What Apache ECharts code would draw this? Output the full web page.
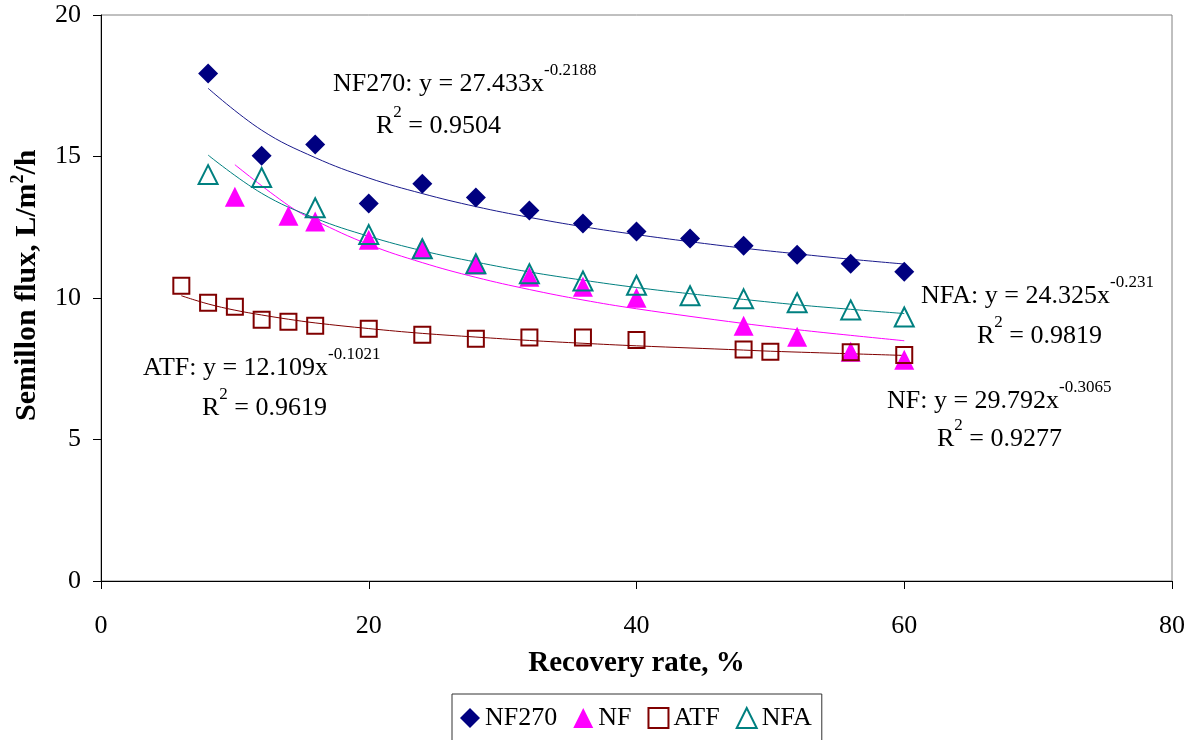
<!DOCTYPE html>
<html>
<head>
<meta charset="utf-8">
<script src="https://cdn.jsdelivr.net/npm/echarts@6/dist/echarts.min.js"></script>
<style>
html,body{margin:0;padding:0;background:#fff;}
#chart{width:1202px;height:740px;}
</style>
</head>
<body>
<div id="chart"></div>
<script>
// ---- data ----
const nf270X = [8, 12, 16, 20, 24, 28, 32, 36, 40, 44, 48, 52, 56, 60];
const nf270Y = [17.93, 15.03, 15.42, 13.34, 14.04, 13.55, 13.09, 12.63, 12.35, 12.10, 11.85, 11.53, 11.21, 10.93];
const nfX = [10, 14, 16, 20, 24, 28, 32, 36, 40, 48, 52, 56, 60];
const nfY = [13.58, 12.91, 12.70, 12.06, 11.78, 11.18, 10.75, 10.40, 10.01, 9.02, 8.63, 8.10, 7.82];
const atfX = [6, 8, 10, 12, 14, 16, 20, 24, 28, 32, 36, 40, 48, 50, 56, 60];
const atfY = [10.43, 9.83, 9.69, 9.23, 9.16, 9.02, 8.91, 8.70, 8.56, 8.60, 8.60, 8.52, 8.18, 8.10, 8.08, 7.99];
const nfaX = [8, 12, 16, 20, 24, 28, 32, 36, 40, 44, 48, 52, 56, 60];
const nfaY = [14.36, 14.26, 13.19, 12.24, 11.74, 11.21, 10.86, 10.60, 10.45, 10.08, 9.97, 9.83, 9.58, 9.33];

// trend lines (power fits shown on the chart), sampled values
const nf270TrendX = [8, 12, 16, 20, 24, 28, 32, 36, 40, 44, 48, 52, 56, 60];
const nf270TrendY = [17.41, 15.93, 14.96, 14.24, 13.69, 13.23, 12.85, 12.52, 12.24, 11.99, 11.76, 11.56, 11.37, 11.20];
const nfTrendX = [10, 14, 16, 20, 24, 28, 32, 36, 40, 48, 52, 56, 60];
const nfTrendY = [14.71, 13.27, 12.74, 11.89, 11.25, 10.73, 10.30, 9.93, 9.62, 9.10, 8.88, 8.68, 8.49];
const atfTrendX = [6, 8, 10, 12, 14, 16, 20, 24, 28, 32, 36, 40, 48, 50, 56, 60];
const atfTrendY = [10.08, 9.79, 9.57, 9.40, 9.25, 9.12, 8.92, 8.75, 8.62, 8.50, 8.40, 8.31, 8.16, 8.12, 8.03, 7.97];
const nfaTrendX = [8, 12, 16, 20, 24, 28, 32, 36, 40, 44, 48, 52, 56, 60];
const nfaTrendY = [15.05, 13.70, 12.82, 12.18, 11.67, 11.27, 10.92, 10.63, 10.37, 10.15, 9.95, 9.76, 9.60, 9.45];

const seriesNames = ['NF270', 'NF', 'ATF', 'NFA'];
const xTicks = [0, 20, 40, 60, 80];
const yTicks = [0, 5, 10, 15, 20];

// annotation texts
const eqTexts = [
  { main: 'NF270: y = 27.433x', sup: '-0.2188', r2: '0.9504' },
  { main: 'NF: y = 29.792x', sup: '-0.3065', r2: '0.9277' },
  { main: 'ATF: y = 12.109x', sup: '-0.1021', r2: '0.9619' },
  { main: 'NFA: y = 24.325x', sup: '-0.231', r2: '0.9819' }
];
const yTitleParts = ['Semillon flux, L/m', '2', '/h'];

const FONT = '"Liberation Serif", "Times New Roman", serif';
const pair = (xs, ys) => xs.map((x, i) => [x, ys[i]]);

// text measuring for placing superscripts
const mctx = document.createElement('canvas').getContext('2d');
function tw(text, size, weight) {
  mctx.font = (weight || 'normal') + ' ' + size + 'px ' + FONT;
  return mctx.measureText(text).width;
}
const MAIN_FS = 26, SUP_FS = 17, SUP_RISE = 17, MID = 0.3375;

function piece(text, x, baseline, size) {
  return { type: 'text', x: x, y: baseline - MID * size, z: 50,
    style: { text: text, fontFamily: FONT, fontSize: size, fill: '#000', align: 'left', verticalAlign: 'middle' } };
}
function eqLine(x, baseline, mainText, supText) {
  const w = tw(mainText, MAIN_FS);
  return [piece(mainText, x, baseline, MAIN_FS), piece(supText, x + w, baseline - SUP_RISE, SUP_FS)];
}
function r2Line(x, baseline, val) {
  const wR = tw('R', MAIN_FS);
  const w2 = tw('2', SUP_FS);
  return [piece('R', x, baseline, MAIN_FS), piece('2', x + wR, baseline - SUP_RISE, SUP_FS),
          piece(' = ' + val, x + wR + w2, baseline, MAIN_FS)];
}
// rotated (bottom-to-top) bold y-axis title: start y, baseline x
function vPiece(text, baselineX, startY, size) {
  return { type: 'text', x: baselineX - MID * size, y: startY, rotation: Math.PI / 2, z: 50,
    style: { text: text, fontFamily: FONT, fontSize: size, fontWeight: 'bold', fill: '#000', align: 'left', verticalAlign: 'middle' } };
}
function yTitle(baselineX, startY) {
  const T_FS = 30, S_FS = 18, RISE = 13;
  const w1 = tw(yTitleParts[0], T_FS, 'bold');
  const w2 = tw(yTitleParts[1], S_FS, 'bold');
  return [vPiece(yTitleParts[0], baselineX, startY, T_FS),
          vPiece(yTitleParts[1], baselineX - RISE, startY - w1, S_FS),
          vPiece(yTitleParts[2], baselineX, startY - w1 - w2, T_FS)];
}

const chart = echarts.init(document.getElementById('chart'), null, { renderer: 'canvas' });

const markerSeries = [
  { name: 'NF270', type: 'scatter', data: pair(nf270X, nf270Y), symbol: 'diamond', symbolSize: 20,
    itemStyle: { color: '#000080', opacity: 1 }, z: 5 },
  { name: 'NF', type: 'scatter', data: pair(nfX, nfY), symbol: 'triangle', symbolSize: 20,
    itemStyle: { color: '#FF00FF', opacity: 1 }, z: 5 },
  { name: 'ATF', type: 'scatter', data: pair(atfX, atfY), symbol: 'rect', symbolSize: 16,
    itemStyle: { color: 'rgba(255,255,255,0)', borderColor: '#800000', borderWidth: 2, opacity: 1 }, z: 6 },
  { name: 'NFA', type: 'scatter', data: pair(nfaX, nfaY), symbol: 'triangle', symbolSize: 19,
    itemStyle: { color: 'rgba(255,255,255,0)', borderColor: '#008080', borderWidth: 2, opacity: 1 }, z: 7 }
];
const trendSeries = [
  { name: 'NF270 trend', data: pair(nf270TrendX, nf270TrendY), color: '#1a1a8c' },
  { name: 'NF trend', data: pair(nfTrendX, nfTrendY), color: '#FF00FF' },
  { name: 'ATF trend', data: pair(atfTrendX, atfTrendY), color: '#800000' },
  { name: 'NFA trend', data: pair(nfaTrendX, nfaTrendY), color: '#008080' }
].map(t => ({
  name: t.name, type: 'line', data: t.data, showSymbol: false, smooth: 0.4,
  lineStyle: { color: t.color, width: 1 }, itemStyle: { color: t.color }, z: 3, silent: true
}));

const annotations = [].concat(
  yTitle(37, 421),
  eqLine(333, 93, eqTexts[0].main, eqTexts[0].sup),
  r2Line(376, 135, eqTexts[0].r2),
  eqLine(887, 410, eqTexts[1].main, eqTexts[1].sup),
  r2Line(937, 448, eqTexts[1].r2),
  eqLine(143, 377, eqTexts[2].main, eqTexts[2].sup),
  r2Line(202, 417, eqTexts[2].r2),
  eqLine(921, 305, eqTexts[3].main, eqTexts[3].sup),
  r2Line(977, 345, eqTexts[3].r2)
);

const option = {
  animation: false,
  backgroundColor: '#fff',
  grid: { left: 101, right: 30, top: 15, bottom: 159, show: true, borderColor: '#808080', borderWidth: 1, backgroundColor: 'transparent' },
  xAxis: {
    type: 'value', min: xTicks[0], max: xTicks[xTicks.length - 1], interval: 20,
    axisLine: { show: true, onZero: false, lineStyle: { color: '#000', width: 1 } },
    axisTick: { show: true, inside: false, length: 8, lineStyle: { color: '#000' } },
    axisLabel: { margin: 32, fontFamily: FONT, fontSize: 26, color: '#000' },
    splitLine: { show: false },
    name: 'Recovery rate, %', nameLocation: 'middle', nameGap: 68,
    nameTextStyle: { fontFamily: FONT, fontSize: 29, fontWeight: 'bold', color: '#000' }
  },
  yAxis: {
    type: 'value', min: yTicks[0], max: yTicks[yTicks.length - 1], interval: 5,
    axisLine: { show: true, onZero: false, lineStyle: { color: '#000', width: 1 } },
    axisTick: { show: true, inside: false, length: 8, lineStyle: { color: '#000' } },
    axisLabel: { margin: 20, fontFamily: FONT, fontSize: 26, color: '#000' },
    splitLine: { show: false }
  },
  legend: {
    data: seriesNames,
    left: 452, top: 694,
    orient: 'horizontal',
    padding: [11, 10, 22, 8],
    itemGap: 16, itemWidth: 20, itemHeight: 20,
    borderColor: '#333', borderWidth: 1,
    textStyle: { fontFamily: FONT, fontSize: 26, color: '#000' }
  },
  graphic: annotations,
  series: trendSeries.concat(markerSeries)
};
chart.setOption(option);
</script>
</body>
</html>
